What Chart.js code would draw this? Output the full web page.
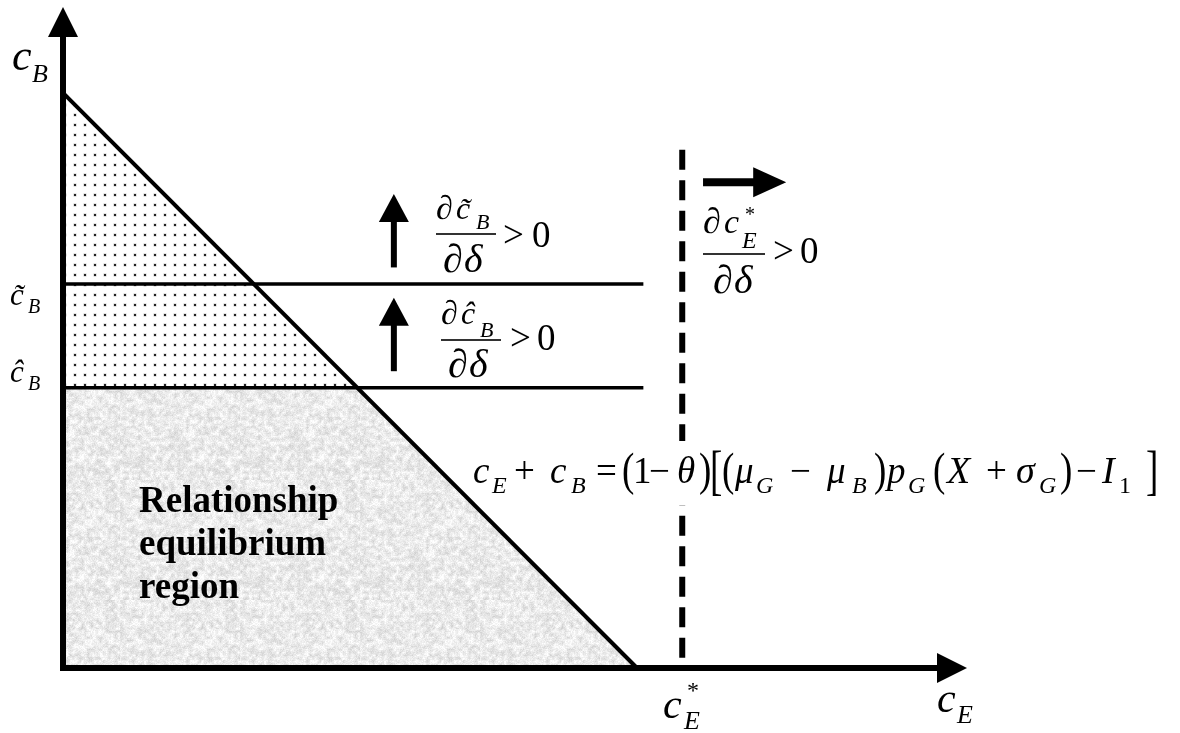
<!DOCTYPE html>
<html>
<head>
<meta charset="utf-8">
<script src="https://cdn.jsdelivr.net/npm/chart.js@4.4.0/dist/chart.umd.min.js"></script>
<style>
  html, body { margin: 0; padding: 0; background: #fff; }
  #wrap { width: 1180px; height: 733px; }
</style>
</head>
<body>
<div id="wrap"><canvas id="diagram" width="1180" height="733"></canvas></div>
<script>
// abstract axis ranges (no numeric ticks in the figure)
const xRange = [0, 10];
const yRange = [0, 10];

// budget line c_E + c_B = const, intercepts [on c_E axis, on c_B axis]
const budgetIntercepts = [6.35, 8.7];
// threshold levels of c_B : [c~_B, c^_B]
const thresholdValues = [5.81, 4.24];
const thresholdEnd = 6.42;
// c_E* cut-off and height of its dashed line
const cEStar = 6.85;
const cEStarTop = 7.84;
// comparative statics arrows
const upArrowX = [3.66, 3.66];
const upArrowSpan = [0.25, 1.36]; // above each threshold
const rightArrowX = [7.08, 8.0];
const rightArrowY = 7.35;

const SERIF = '"Liberation Serif", "Times New Roman", serif';

const xInt = budgetIntercepts[0];
const yInt = budgetIntercepts[1];
const cTilde = thresholdValues[0];
const cHat = thresholdValues[1];
// where the budget line crosses c^_B
const xHatCross = xInt * (1 - cHat / yInt);

// small deterministic hash for the paper grain
function hash(x, y) {
  const s = Math.sin(x * 127.1 + y * 311.7) * 43758.5453;
  return s - Math.floor(s);
}

function makeGrain() {
  const small = document.createElement("canvas");
  small.width = small.height = 40;
  const sg = small.getContext("2d");
  for (let y = 0; y < 40; y++) {
    for (let x = 0; x < 40; x++) {
      const v = Math.round(216 + hash(x, y) * 38);
      sg.fillStyle = `rgb(${v},${v},${v})`;
      sg.fillRect(x, y, 1, 1);
    }
  }
  const c = document.createElement("canvas");
  c.width = c.height = 120;
  const g = c.getContext("2d");
  g.imageSmoothingEnabled = true;
  g.drawImage(small, 0, 0, 120, 120);
  const img = g.getImageData(0, 0, 120, 120);
  for (let i = 0; i < img.data.length; i += 4) {
    const p = i / 4;
    const n = (hash(p % 120 + 0.5, Math.floor(p / 120) + 0.3) - 0.5) * 22;
    for (let k = 0; k < 3; k++) img.data[i + k] = Math.max(0, Math.min(255, img.data[i + k] + n));
  }
  g.putImageData(img, 0, 0);
  return g.createPattern(c, "repeat");
}

function makeDots() {
  const c = document.createElement("canvas");
  c.width = c.height = 10;
  const g = c.getContext("2d");
  g.fillStyle = "#fff";
  g.fillRect(0, 0, 10, 10);
  g.fillStyle = "#c4c4c4";
  g.fillRect(3.5, 3.5, 3, 3);
  g.fillStyle = "#222";
  g.fillRect(4, 4, 2, 2);
  return g.createPattern(c, "repeat");
}

// t = [text, font, x, baseline, vertical stretch]
function tok(ctx, t) {
  ctx.font = t[1];
  if (t[4]) {
    ctx.save();
    ctx.translate(t[2], t[3]);
    ctx.scale(1, t[4]);
    ctx.fillText(t[0], 0, 0);
    ctx.restore();
  } else {
    ctx.fillText(t[0], t[2], t[3]);
  }
}
const it = (n) => `italic ${n}px ${SERIF}`;
const rm = (n) => `${n}px ${SERIF}`;

function arrowHead(ctx, tipX, tipY, dir, len, half) {
  ctx.beginPath();
  if (dir === "up") {
    ctx.moveTo(tipX, tipY);
    ctx.lineTo(tipX - half, tipY + len);
    ctx.lineTo(tipX + half, tipY + len);
  } else {
    ctx.moveTo(tipX, tipY);
    ctx.lineTo(tipX - len, tipY - half);
    ctx.lineTo(tipX - len, tipY + half);
  }
  ctx.closePath();
  ctx.fill();
}

function fraction(ctx, x0, x1, barY, parts) {
  ctx.fillRect(x0, barY - 0.8, x1 - x0, 1.6);
  parts.forEach((t) => tok(ctx, t));
}

const decorations = {
  id: "decorations",
  afterDatasetsDraw(chart) {
    const { ctx, chartArea, scales } = chart;
    const px = (v) => scales.x.getPixelForValue(v);
    const py = (v) => scales.y.getPixelForValue(v);
    const x0 = px(0), y0 = py(0);
    ctx.save();

    // equation sits on a white box that interrupts the dashed line
    ctx.fillStyle = "#fff";
    ctx.fillRect(480, 441, 685, 64);
    ctx.fillStyle = "#000";
    ctx.strokeStyle = "#000";

    // axes with arrow heads
    ctx.lineWidth = 6;
    ctx.beginPath();
    ctx.moveTo(x0, y0 + 3);
    ctx.lineTo(x0, chartArea.top + 30);
    ctx.moveTo(x0 - 3, y0);
    ctx.lineTo(chartArea.right - 30, y0);
    ctx.stroke();
    arrowHead(ctx, x0, chartArea.top, "up", 30, 15);
    arrowHead(ctx, chartArea.right, y0, "right", 30, 15);

    // upward shift arrows
    thresholdValues.forEach((t, i) => {
      const ax = px(upArrowX[i]);
      const base = py(t + upArrowSpan[0]);
      const tip = py(t + upArrowSpan[1]);
      ctx.lineWidth = 6;
      ctx.beginPath();
      ctx.moveTo(ax, base);
      ctx.lineTo(ax, tip + 27);
      ctx.stroke();
      arrowHead(ctx, ax, tip, "up", 28, 15);
    });

    // rightward shift of c_E*
    const ry = py(rightArrowY);
    ctx.lineWidth = 8;
    ctx.beginPath();
    ctx.moveTo(px(rightArrowX[0]), ry);
    ctx.lineTo(px(rightArrowX[1]) - 31, ry);
    ctx.stroke();
    arrowHead(ctx, px(rightArrowX[1]), ry, "right", 33, 15);

    ctx.textBaseline = "alphabetic";
    ctx.textAlign = "left";

    // axis labels and threshold labels
    [
      ["c", it(44), 12, 70], ["B", it(26), 32, 82],
      ["c", it(42), 937, 712], ["E", it(26), 957, 723],
      ["*", rm(24), 687, 698], ["c", it(42), 663, 718], ["E", it(26), 684, 729],
      ["c\u0303", it(31), 10, 305], ["B", it(20), 28, 313],
      ["\u0109", it(31), 10, 382], ["B", it(20), 28, 390]
    ].forEach((t) => tok(ctx, t));

    // comparative statics
    fraction(ctx, 436, 496, 234, [
      ["\u2202", rm(34), 436, 219], ["c\u0303", it(32), 456, 219], ["B", it(22), 476, 229],
      ["\u2202", rm(40), 443, 272], ["\u03b4", it(40), 464, 272],
      [">", rm(37), 503, 247], ["0", rm(37), 532, 247]
    ]);
    fraction(ctx, 441, 501, 340, [
      ["\u2202", rm(34), 441, 324], ["\u0109", it(32), 461, 324], ["B", it(22), 480, 337],
      ["\u2202", rm(40), 448, 377], ["\u03b4", it(40), 469, 377],
      [">", rm(37), 510, 350], ["0", rm(37), 537, 350]
    ]);
    fraction(ctx, 703, 765, 254, [
      ["\u2202", rm(36), 703, 233], ["c", it(34), 724, 233], ["*", rm(20), 745, 221], ["E", it(24), 742, 248],
      ["\u2202", rm(40), 713, 293], ["\u03b4", it(40), 734, 293],
      [">", rm(37), 773, 263], ["0", rm(37), 800, 263]
    ]);

    // budget line equation
    [
      ["c", it(37), 473, 483], ["E", it(24), 492, 493], ["+", rm(37), 514, 483],
      ["c", it(37), 550, 483], ["B", it(24), 571, 493], ["=", rm(37), 596, 483],
      ["(", rm(37), 622, 485, 1.25], ["1", rm(37), 633, 483], ["\u2212", rm(37), 649, 483],
      ["\u03b8", it(37), 677, 483], [")", rm(37), 699, 485, 1.25], ["[", rm(37), 710, 489, 1.5],
      ["(", rm(37), 722, 485, 1.25], ["\u03bc", it(37), 735, 483], ["G", it(24), 756, 493],
      ["\u2212", rm(37), 790, 483], ["\u03bc", it(37), 827, 483], ["B", it(24), 852, 493],
      [")", rm(37), 874, 485, 1.25], ["p", it(37), 887, 483], ["G", it(24), 908, 493],
      ["(", rm(37), 933, 485, 1.25], ["X", it(38), 947, 483], ["+", rm(37), 986, 483],
      ["\u03c3", it(38), 1016, 483], ["G", it(24), 1039, 493], [")", rm(37), 1060, 485, 1.25],
      ["\u2212", rm(37), 1076, 483], ["I", it(38), 1102, 483], ["1", rm(24), 1119, 493],
      ["]", rm(37), 1146, 489, 1.5]
    ].forEach((t) => tok(ctx, t));

    // region label
    ["Relationship", "equilibrium", "region"].forEach((s, i) => {
      tok(ctx, [s, `bold 37px ${SERIF}`, 139, 512 + i * 43]);
    });

    ctx.restore();
  }
};

const line = (data, extra) => Object.assign({
  type: "line",
  data: data,
  borderColor: "#000",
  borderWidth: 4,
  pointRadius: 0,
  fill: false,
  tension: 0,
  clip: false,
  order: 1
}, extra);

const datasets = [
  line([{ x: 0, y: yInt }, { x: xInt, y: 0 }]),
  line([{ x: 0, y: cTilde }, { x: thresholdEnd, y: cTilde }], { borderWidth: 3.5 }),
  line([{ x: 0, y: cHat }, { x: thresholdEnd, y: cHat }], { borderWidth: 3.5 }),
  line([{ x: cEStar, y: cEStarTop }, { x: cEStar, y: 0 }], {
    borderWidth: 6, borderDash: [20, 10.5], borderCapStyle: "butt"
  }),
  line([{ x: 0, y: yInt }, { x: xHatCross, y: cHat }], {
    borderWidth: 0, fill: { value: cHat }, backgroundColor: makeDots(), order: 5
  }),
  line([{ x: 0, y: cHat }, { x: xHatCross, y: cHat }, { x: xInt, y: 0 }], {
    borderWidth: 0, fill: "origin", backgroundColor: makeGrain(), order: 5
  })
];

const ctx = document.getElementById("diagram").getContext("2d");
new Chart(ctx, {
  type: "line",
  data: { datasets: datasets },
  options: {
    responsive: false,
    animation: false,
    events: [],
    layout: { padding: { left: 63, top: 7, right: 213, bottom: 65 } },
    scales: {
      x: { type: "linear", min: xRange[0], max: xRange[1], display: false },
      y: { type: "linear", min: yRange[0], max: yRange[1], display: false }
    },
    plugins: {
      legend: { display: false },
      tooltip: { enabled: false }
    }
  },
  plugins: [decorations]
});
</script>
</body>
</html>
